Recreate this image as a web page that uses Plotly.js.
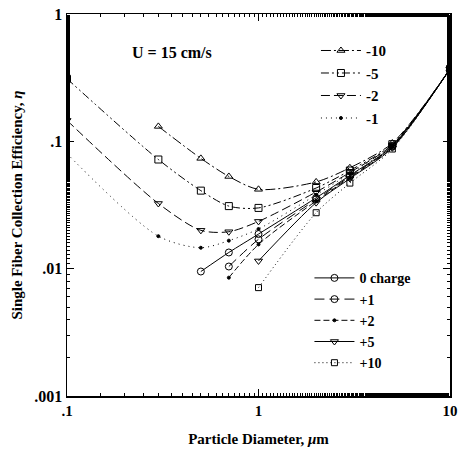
<!DOCTYPE html>
<html><head><meta charset="utf-8">
<script src="https://cdn.plot.ly/plotly-3.0.1.min.js"></script>
<style>body{margin:0;background:#fff}#c{width:458px;height:457px}</style>
</head><body><div id="c"></div>
<script>
// Particle diameter (µm) and single fiber collection efficiency for each charge
const xNeg10 = [0.3, 0.5, 0.7, 1, 2, 3, 5, 10];
const yNeg10 = [0.131, 0.0735, 0.053, 0.042, 0.048, 0.062, 0.097, 0.37];
const xNeg5 = [0.1, 0.3, 0.5, 0.7, 1, 2, 3, 5, 10];
const yNeg5 = [0.31, 0.072, 0.041, 0.031, 0.030, 0.043, 0.059, 0.095, 0.37];
const xNeg2 = [0.1, 0.3, 0.5, 0.7, 1, 2, 3, 5, 10];
const yNeg2 = [0.146, 0.0325, 0.020, 0.0195, 0.0235, 0.040, 0.057, 0.094, 0.37];
const xNeg1 = [0.1, 0.3, 0.5, 0.7, 1, 2, 3, 5, 10];
const yNeg1 = [0.08, 0.018, 0.0146, 0.0166, 0.0205, 0.038, 0.056, 0.093, 0.37];
const x0 = [0.5, 0.7, 1, 2, 3, 5, 10];
const y0 = [0.0095, 0.0134, 0.0187, 0.036, 0.054, 0.092, 0.37];
const xPos1 = [0.7, 1, 2, 3, 5, 10];
const yPos1 = [0.0104, 0.017, 0.035, 0.053, 0.091, 0.37];
const xPos2 = [0.7, 1, 2, 3, 5, 10];
const yPos2 = [0.0085, 0.0155, 0.034, 0.052, 0.090, 0.37];
const xPos5 = [1, 2, 3, 5, 10];
const yPos5 = [0.0115, 0.033, 0.051, 0.089, 0.37];
const xPos10 = [1, 2, 3, 5, 10];
const yPos10 = [0.0071, 0.0275, 0.047, 0.087, 0.37];

const seriesNames = ['-10', '-5', '-2', '-1', '0 charge', '+1', '+2', '+5', '+10'];
const xTickVals = [0.1, 1, 10];
const xTickText = ['.1', '1', '10'];
const yTickVals = [0.001, 0.01, 0.1, 1];
const yTickText = ['.001', '.01', '.1', '1'];

const F = 'Liberation Serif, Times New Roman, serif';
function tr(x, y, name, sym, dash, legend, msize) {
  return {
    x: x, y: y, name: name, type: 'scatter', mode: 'lines+markers',
    legend: legend,
    line: {color: '#000', width: 1, dash: dash, shape: 'spline', smoothing: 0.8},
    marker: {symbol: sym, size: msize || 7, color: '#000',
             line: {color: '#000', width: 1}}
  };
}
const data = [
  tr(xNeg10, yNeg10, seriesNames[0], 'triangle-up-open', '10px,3px,2px,3px', 'legend'),
  tr(xNeg5, yNeg5, seriesNames[1], 'square-open', '8px,3px,2px,3px,2px,3px', 'legend'),
  tr(xNeg2, yNeg2, seriesNames[2], 'triangle-down-open', '9px,4px', 'legend'),
  tr(xNeg1, yNeg1, seriesNames[3], 'circle', '1px,4px', 'legend', 3),
  tr(x0, y0, seriesNames[4], 'circle-open', 'solid', 'legend2'),
  tr(xPos1, yPos1, seriesNames[5], 'circle-open', '10px,5px', 'legend2'),
  tr(xPos2, yPos2, seriesNames[6], 'circle', '6px,3px', 'legend2', 3),
  tr(xPos5, yPos5, seriesNames[7], 'triangle-down-open', 'solid', 'legend2'),
  tr(xPos10, yPos10, seriesNames[8], 'square-open', '1px,3px', 'legend2', 6)
];
const legFont1 = {family: F, size: 15, color: '#000', weight: 'bold'};
const legFont2 = {family: F, size: 14, color: '#000', weight: 'bold'};
const layout = {
  width: 458, height: 457,
  margin: {l: 67, r: 8, t: 14, b: 61},
  paper_bgcolor: '#fff', plot_bgcolor: '#fff',
  font: {family: F, color: '#000'},
  showlegend: true,
  xaxis: {
    type: 'log', range: [-1, 1], tickvals: xTickVals, ticktext: xTickText,
    ticks: 'inside', ticklen: 7, tickwidth: 1, tickcolor: '#000',
    showline: true, linecolor: '#000', linewidth: 1.5, mirror: 'allticks',
    showgrid: false, zeroline: false,
    minor: {ticks: 'inside', ticklen: 3, tickcolor: '#000', showgrid: false},
    tickfont: {family: F, size: 15, color: '#000', weight: 'bold'},
    title: {text: 'Particle Diameter, <i>μ</i>m', standoff: 16,
            font: {family: F, size: 15, color: '#000', weight: 'bold'}}
  },
  yaxis: {
    type: 'log', range: [-3, 0], tickvals: yTickVals, ticktext: yTickText,
    ticks: 'inside', ticklen: 7, tickwidth: 1, tickcolor: '#000',
    showline: true, linecolor: '#000', linewidth: 1.5, mirror: 'allticks',
    showgrid: false, zeroline: false,
    minor: {ticks: 'inside', ticklen: 3, tickcolor: '#000', showgrid: false},
    tickfont: {family: F, size: 16, color: '#000', weight: 'bold'},
    title: {text: 'Single Fiber Collection Efficiency, <i>η</i>', standoff: 8,
            font: {family: F, size: 15, color: '#000', weight: 'bold'}}
  },
  legend: {x: 0.65, y: 0.947, xanchor: 'left', yanchor: 'top', bgcolor: 'rgba(0,0,0,0)',
           font: legFont1, itemwidth: 40, tracegroupgap: 0},
  legend2: {x: 0.633, y: 0.35, xanchor: 'left', yanchor: 'top', bgcolor: 'rgba(0,0,0,0)',
            font: legFont2, itemwidth: 40, tracegroupgap: 0},
  annotations: [{
    xref: 'paper', yref: 'paper', x: 0.165, y: 0.9, xanchor: 'left', yanchor: 'middle',
    text: 'U = 15 cm/s', showarrow: false,
    font: {family: F, size: 16, color: '#000', weight: 'bold'}
  }]
};
Plotly.newPlot('c', data, layout, {displayModeBar: false, staticPlot: true});
</script></body></html>
